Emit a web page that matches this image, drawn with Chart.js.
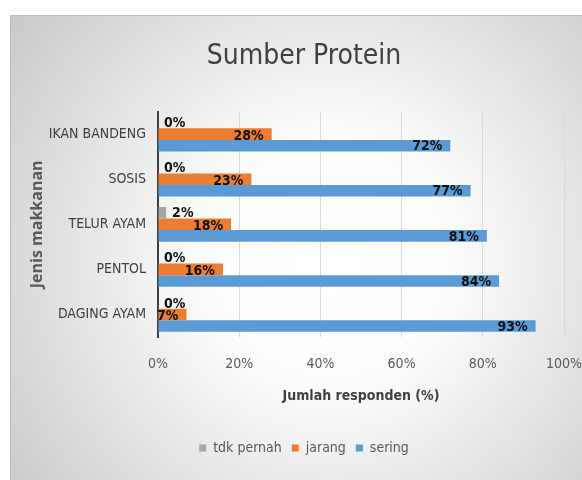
<!DOCTYPE html>
<html lang="id">
<head>
  <meta charset="UTF-8" />
  <title>Sumber Protein</title>
  <script src="https://cdn.jsdelivr.net/npm/chart.js"></script>
  <style>
    html, body {
      margin: 0;
      padding: 0;
      background: #fff;
    }
    #wrap {
      width: 582px;
      height: 480px;
      position: relative;
    }
  </style>
</head>
<body>
  <div id="wrap"><canvas id="proteinChart"></canvas></div>

  <script>
    // data
    const categories = ['IKAN BANDENG', 'SOSIS', 'TELUR AYAM', 'PENTOL', 'DAGING AYAM'];
    const tdkPernah = [0, 0, 2, 0, 0];
    const jarang = [28, 23, 18, 16, 7];
    const sering = [72, 77, 81, 84, 93];
    const xTicks = [0, 20, 40, 60, 80, 100];

    const NARROW = "'Liberation Sans Narrow', 'DejaVu Sans Condensed', 'Arial Narrow', sans-serif";

    // grey card with a light centre, like the office chart background
    const backgroundPlugin = {
      id: 'cardBackground',
      beforeDraw(chart) {
        const ctx = chart.ctx;
        ctx.save();
        ctx.fillStyle = '#fff';
        ctx.fillRect(0, 0, chart.width, chart.height);
        const g = ctx.createRadialGradient(330, 260, 10, 330, 260, 400);
        g.addColorStop(0, '#ffffff');
        g.addColorStop(0.3, '#fcfcfc');
        g.addColorStop(1, '#c9c9c9');
        ctx.fillStyle = g;
        ctx.fillRect(10, 15, chart.width - 10, chart.height - 15);
        ctx.strokeStyle = '#bdbdbd';
        ctx.lineWidth = 1;
        ctx.beginPath();
        ctx.moveTo(10.5, chart.height);
        ctx.lineTo(10.5, 15.5);
        ctx.lineTo(chart.width, 15.5);
        ctx.stroke();
        ctx.restore();
      }
    };

    // value labels on the bars
    const barLabelPlugin = {
      id: 'barLabels',
      afterDatasetsDraw(chart) {
        const ctx = chart.ctx;
        ctx.save();
        ctx.font = 'bold 14px ' + NARROW;
        ctx.fillStyle = '#111';
        ctx.textBaseline = 'middle';
        chart.data.datasets.forEach((ds, i) => {
          chart.getDatasetMeta(i).data.forEach((bar, j) => {
            const txt = ds.data[j] + '%';
            if (i === 0) {
              ctx.textAlign = 'left';
              ctx.fillText(txt, bar.x + 6, bar.y + 1);
            } else {
              ctx.textAlign = 'right';
              ctx.fillText(txt, bar.x - 8, bar.y + (i === 1 ? 2 : 1));
            }
          });
        });
        ctx.restore();
      }
    };

    new Chart(document.getElementById('proteinChart'), {
      type: 'bar',
      data: {
        labels: categories,
        datasets: [
          { label: 'tdk pernah', data: tdkPernah, backgroundColor: '#a5a5a5' },
          { label: 'jarang', data: jarang, backgroundColor: '#ed7d31' },
          { label: 'sering', data: sering, backgroundColor: '#5b9bd5' }
        ]
      },
      options: {
        indexAxis: 'y',
        responsive: true,
        maintainAspectRatio: false,
        animation: false,
        categoryPercentage: 0.77,
        barPercentage: 1.0,
        layout: { padding: { left: 26, right: 0, top: 0, bottom: 15 } },
        scales: {
          x: {
            min: 0,
            max: 100,
            afterBuildTicks: (s) => { s.ticks = xTicks.map(v => ({ value: v })); },
            afterFit: (s) => { s.height = 94; s.paddingRight = 18; },
            grid: { color: '#d9d9d9', drawTicks: false },
            border: { display: false },
            ticks: {
              color: '#595959',
              padding: 19,
              font: { family: NARROW, size: 14 },
              callback: v => v + '%'
            },
            title: {
              display: true,
              text: 'Jumlah responden (%)',
              color: '#404040',
              font: { family: NARROW, size: 14, weight: 'bold' },
              padding: { top: 0, bottom: 26 }
            }
          },
          y: {
            afterFit: (s) => { s.width = 132; },
            grid: { display: false, drawTicks: false },
            border: { display: true, color: '#404040', width: 2 },
            ticks: {
              color: '#404040',
              padding: 12,
              font: { family: NARROW, size: 14 }
            },
            title: {
              display: true,
              text: 'Jenis makkanan',
              color: '#595959',
              font: { family: "'Open Sans', sans-serif", size: 16, weight: 'bold' },
              padding: { top: 2, bottom: 0 }
            }
          }
        },
        plugins: {
          title: {
            display: true,
            text: 'Sumber Protein',
            color: '#404040',
            font: { family: NARROW, size: 28, weight: 'normal' },
            padding: { top: 40, bottom: 38 }
          },
          legend: {
            position: 'bottom',
            labels: {
              boxWidth: 7,
              boxHeight: 7,
              padding: 10,
              color: '#595959',
              font: { family: NARROW, size: 14 }
            }
          },
          tooltip: { enabled: false }
        }
      },
      plugins: [backgroundPlugin, barLabelPlugin]
    });
  </script>
</body>
</html>
